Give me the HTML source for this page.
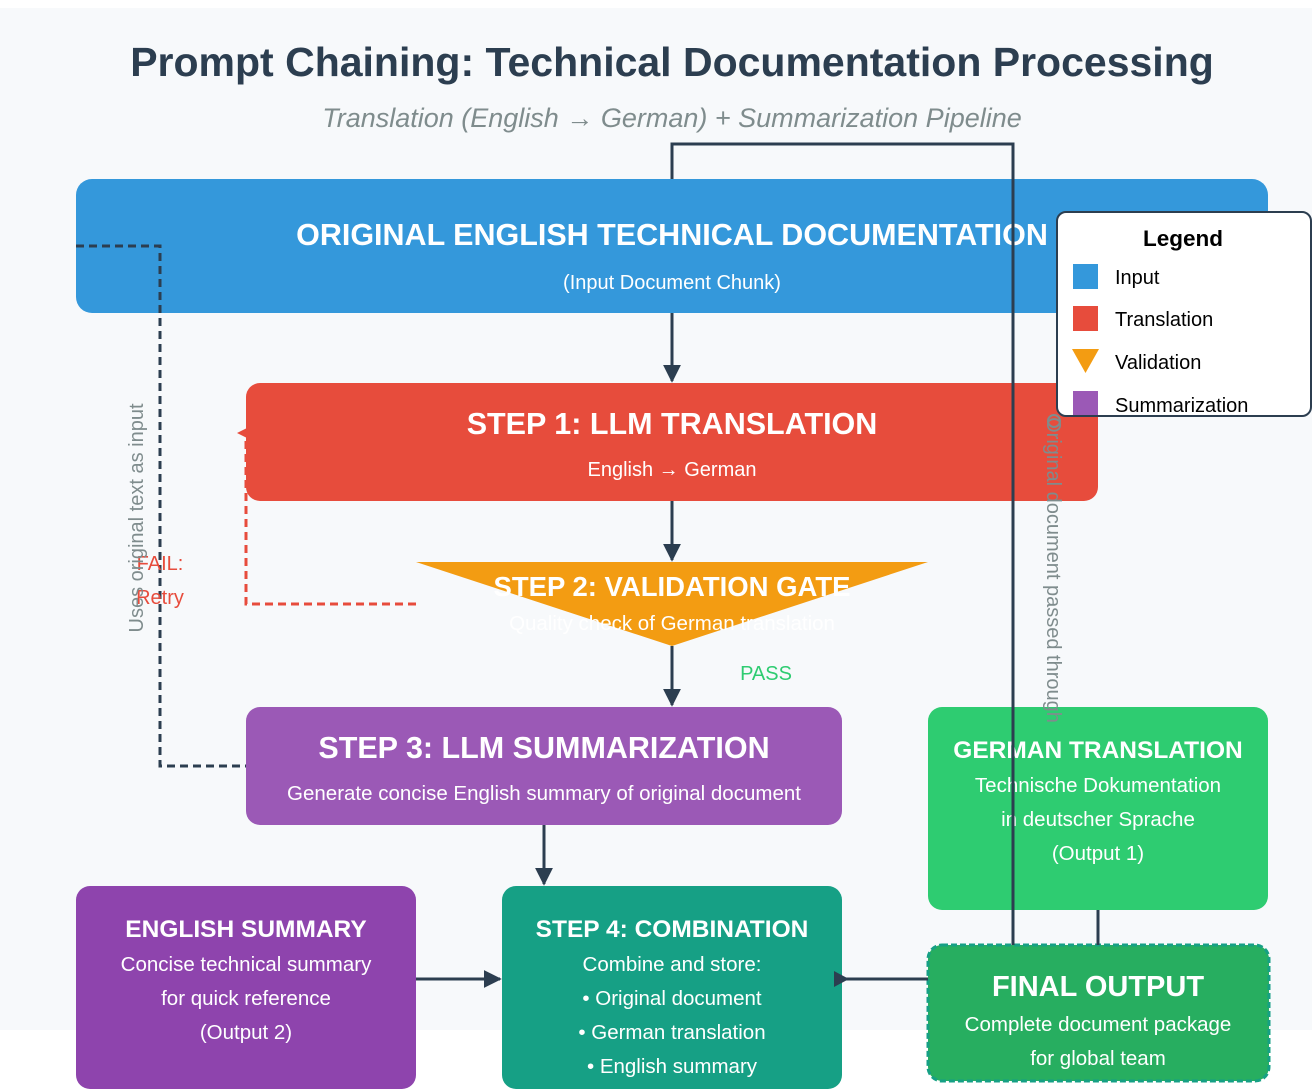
<!DOCTYPE html>
<html><head><meta charset="utf-8"><style>
html,body{margin:0;padding:0;background:#fff;}
svg{display:block;font-family:"Liberation Sans",Arial,sans-serif;}
</style></head><body>
<svg width="1312" height="1092" viewBox="0 0 1312 1092" xmlns="http://www.w3.org/2000/svg">
<defs>
<marker id="ahs" viewBox="0 0 10 10" markerWidth="18" markerHeight="18" refX="9" refY="5" orient="auto" markerUnits="userSpaceOnUse"><path d="M0,0 L10,5 L0,10 z" fill="#2c3e50"/></marker>
</defs>
<rect x="0" y="8" width="1312" height="1022" fill="#f7f9fb"/>
<text x="672" y="76" text-anchor="middle" font-size="41" font-weight="bold" fill="#2c3e50">Prompt Chaining: Technical Documentation Processing</text>
<text x="672" y="127" text-anchor="middle" font-size="27" font-style="italic" fill="#7f8c8d">Translation (English → German) + Summarization Pipeline</text>

<polyline points="672,179 672,144 1013,144 1013,180" fill="none" stroke="#2c3e50" stroke-width="3"/>

<rect x="76" y="179" width="1192" height="134" rx="16" fill="#3498db"/>
<text x="672" y="245" text-anchor="middle" font-size="30.5" font-weight="bold" fill="#fff">ORIGINAL ENGLISH TECHNICAL DOCUMENTATION</text>
<text x="672" y="289" text-anchor="middle" font-size="20" fill="#fff">(Input Document Chunk)</text>

<rect x="246" y="383" width="852" height="118" rx="14" fill="#e74c3c"/>
<text x="672" y="434" text-anchor="middle" font-size="30.5" font-weight="bold" fill="#fff">STEP 1: LLM TRANSLATION</text>
<text x="672" y="476" text-anchor="middle" font-size="20" fill="#fff">English → German</text>

<polygon points="416,562 928,562 672,646" fill="#f39c12"/>
<text x="672" y="596" text-anchor="middle" font-size="27.5" font-weight="bold" fill="#fff">STEP 2: VALIDATION GATE</text>
<text x="672" y="630" text-anchor="middle" font-size="20.5" fill="#fff">Quality check of German translation</text>

<rect x="246" y="707" width="596" height="118" rx="14" fill="#9b59b6"/>
<text x="544" y="758" text-anchor="middle" font-size="30.5" font-weight="bold" fill="#fff">STEP 3: LLM SUMMARIZATION</text>
<text x="544" y="800" text-anchor="middle" font-size="20.5" fill="#fff">Generate concise English summary of original document</text>

<rect x="928" y="707" width="340" height="203" rx="14" fill="#2ecc71"/>
<text x="1098" y="758" text-anchor="middle" font-size="24.5" font-weight="bold" fill="#fff">GERMAN TRANSLATION</text>
<text x="1098" y="792" text-anchor="middle" font-size="20.5" fill="#fff">Technische Dokumentation</text>
<text x="1098" y="826" text-anchor="middle" font-size="20.5" fill="#fff">in deutscher Sprache</text>
<text x="1098" y="860" text-anchor="middle" font-size="20.5" fill="#fff">(Output 1)</text>

<rect x="76" y="886" width="340" height="203" rx="14" fill="#8e44ad"/>
<text x="246" y="937" text-anchor="middle" font-size="24.5" font-weight="bold" fill="#fff">ENGLISH SUMMARY</text>
<text x="246" y="971" text-anchor="middle" font-size="20.5" fill="#fff">Concise technical summary</text>
<text x="246" y="1005" text-anchor="middle" font-size="20.5" fill="#fff">for quick reference</text>
<text x="246" y="1039" text-anchor="middle" font-size="20.5" fill="#fff">(Output 2)</text>

<rect x="502" y="886" width="340" height="203" rx="14" fill="#16a085"/>
<text x="672" y="937" text-anchor="middle" font-size="24.5" font-weight="bold" fill="#fff">STEP 4: COMBINATION</text>
<text x="672" y="971" text-anchor="middle" font-size="20.5" fill="#fff">Combine and store:</text>
<text x="672" y="1005" text-anchor="middle" font-size="20.5" fill="#fff">• Original document</text>
<text x="672" y="1039" text-anchor="middle" font-size="20.5" fill="#fff">• German translation</text>
<text x="672" y="1073" text-anchor="middle" font-size="20.5" fill="#fff">• English summary</text>

<rect x="928" y="945" width="341" height="136" rx="14" fill="#27ae60" stroke="#16a085" stroke-width="3" stroke-dasharray="6,3"/>
<text x="1098" y="996" text-anchor="middle" font-size="29" font-weight="bold" fill="#fff">FINAL OUTPUT</text>
<text x="1098" y="1031" text-anchor="middle" font-size="20.5" fill="#fff">Complete document package</text>
<text x="1098" y="1065" text-anchor="middle" font-size="20.5" fill="#fff">for global team</text>

<line x1="672" y1="313" x2="672" y2="381" stroke="#2c3e50" stroke-width="3" marker-end="url(#ahs)"/>
<line x1="672" y1="501" x2="672" y2="560" stroke="#2c3e50" stroke-width="3" marker-end="url(#ahs)"/>
<line x1="672" y1="646" x2="672" y2="705" stroke="#2c3e50" stroke-width="3" marker-end="url(#ahs)"/>
<line x1="544" y1="825" x2="544" y2="884" stroke="#2c3e50" stroke-width="3" marker-end="url(#ahs)"/>
<line x1="416" y1="979" x2="500" y2="979" stroke="#2c3e50" stroke-width="3" marker-end="url(#ahs)"/>
<line x1="928" y1="979" x2="835" y2="979" stroke="#2c3e50" stroke-width="3"/>
<path d="M834,971 L849,979 L834,987 z" fill="#2c3e50"/>
<line x1="1098" y1="910" x2="1098" y2="945" stroke="#2c3e50" stroke-width="3"/>
<line x1="1013" y1="179" x2="1013" y2="945" stroke="#2c3e50" stroke-width="3"/>

<polyline points="76,246 160,246 160,766 246,766" fill="none" stroke="#2c3e50" stroke-width="3" stroke-dasharray="8,5"/>
<polyline points="416,604 246,604 246,437" fill="none" stroke="#e74c3c" stroke-width="3" stroke-dasharray="8,5"/>
<path d="M237,433 L247,428 L247,438 z" fill="#e74c3c"/>

<text x="160" y="570" text-anchor="middle" font-size="20" fill="#e74c3c">FAIL:</text>
<text x="160" y="604" text-anchor="middle" font-size="20" fill="#e74c3c">Retry</text>
<text x="766" y="680" text-anchor="middle" font-size="20" fill="#2ecc71">PASS</text>
<text transform="translate(143,518) rotate(-90)" text-anchor="middle" font-size="20" fill="#7f8c8d">Uses original text as input</text>
<text transform="translate(1047,570) rotate(90)" text-anchor="middle" font-size="20" fill="#7f8c8d">Original document passed through</text>

<circle cx="1054" cy="421" r="6" fill="none" stroke="#7f8c8d" stroke-width="2"/>
<rect x="1057" y="212" width="254" height="204" rx="9" fill="#fff" stroke="#2c3e50" stroke-width="2"/>
<text x="1183" y="246" text-anchor="middle" font-size="22.5" font-weight="bold" fill="#000">Legend</text>
<rect x="1073" y="264" width="25" height="25" fill="#3498db"/>
<text x="1115" y="284" font-size="20" fill="#000">Input</text>
<rect x="1073" y="306" width="25" height="25" fill="#e74c3c"/>
<text x="1115" y="326" font-size="20" fill="#000">Translation</text>
<polygon points="1072,349 1099,349 1085.5,373" fill="#f39c12"/>
<text x="1115" y="369" font-size="20" fill="#000">Validation</text>
<rect x="1073" y="391" width="25" height="24" fill="#9b59b6"/>
<text x="1115" y="412" font-size="20" fill="#000">Summarization</text>
</svg>
</body></html>
